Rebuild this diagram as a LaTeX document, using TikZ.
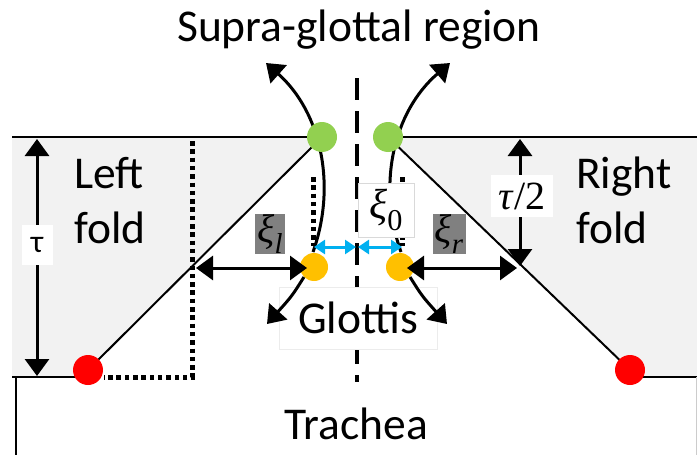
\documentclass[tikz,border=0pt]{standalone}
\usepackage{fontspec}
\setmainfont{Carlito}
\newfontfamily\mfont{Liberation Serif}
\usetikzlibrary{arrows.meta}
\definecolor{foldgray}{HTML}{F2F2F2}
\definecolor{dgreen}{HTML}{92D050}
\definecolor{dyellow}{HTML}{FFC000}
\definecolor{dblue}{HTML}{00B0F0}
\definecolor{labgray}{HTML}{808080}
\newcommand{\msym}[3]{{\mfont\fontsize{#1}{#1}\selectfont #2\raisebox{-0.28em}{\fontsize{0.72\dimexpr#1pt\relax}{1}\selectfont #3}}}
\tikzset{
  dot/.style={circle,inner sep=0pt,minimum size=30pt},
  bigtext/.style={font=\fontsize{45.5}{52}\selectfont,inner sep=0pt},
  blk/.style={line width=3pt,{Triangle[length=17pt,width=24pt]}-{Triangle[length=17pt,width=24pt]}},
  blkone/.style={line width=3pt,-{Triangle[length=17pt,width=24pt]}},
  bluedbl/.style={line width=3pt,draw=dblue,{Triangle[length=11pt,width=14pt]}-{Triangle[length=11pt,width=14pt]}},
  dotline/.style={line width=5pt,dash pattern=on 4.5pt off 3.8pt},
  thinline/.style={line width=2pt},
}
\begin{document}
\begin{tikzpicture}[x=1pt,y=-1pt]
\useasboundingbox (0,0) rectangle (697,455);
% coordinates
\coordinate (gLc) at (322,137);
\coordinate (gRc) at (388,137);
\coordinate (rLc) at (88,370);
\coordinate (rRc) at (630,370);
\coordinate (yLc) at (314,267);
\coordinate (yRc) at (400,267);
% fold fills
\fill[foldgray] (12,137) -- (gLc) -- (rLc) -- (88,377) -- (12,377) -- cycle;
\fill[foldgray] (gRc) -- (697,137) -- (697,377) -- (630,377) -- (rRc) -- cycle;
% outlines
\coordinate (tl) at (12,137);
\coordinate (tr) at (697,137);
\coordinate (bl) at (12,377);
\coordinate (br) at (697,377);
\draw[thinline] (tl) -- (gLc);
\draw[thinline] (gRc) -- (tr);
\draw[thinline] (gLc) -- (rLc);
\draw[thinline] (gRc) -- (rRc);
\draw[thinline] (bl) -- (rLc |- bl);
\draw[thinline] (rRc |- br) -- (br);
\coordinate (wl1) at (16,377);
\coordinate (wl2) at (16,455);
\draw[thinline] (wl1) -- (wl2);
\coordinate (wr1) at (696,377);
\coordinate (wr2) at (696,455);
\draw[line width=1pt,gray!40] (wr1) -- (wr2);
% dotted lines
\coordinate (d1) at (192,141);
\coordinate (d2) at (192,377);
\coordinate (d3) at (104,377);
\draw[dotline] (d1) -- (d2) -- (d3);
\coordinate (s1) at (313,177);
\coordinate (s2) at (313,246);
\draw[dotline] (s1) -- (s2);
\coordinate (s3) at (402,177);
\coordinate (s4) at (402,246);
\draw[dotline] (s3) -- (s4);
% centre line
\coordinate (c1) at (357,78);
\coordinate (c2) at (357,382);
\draw[line width=4.5pt,dash pattern=on 22pt off 11pt] (c1) -- (c2);
% curves
\coordinate (tipUL) at (266,63);
\coordinate (tipUR) at (450,63);
\coordinate (yLtop) at (313,252);
\coordinate (yRtop) at (401,252);
\draw[blkone] (yLtop) .. controls (337,185) and (321,112) .. (tipUL);
\draw[blkone] (yRtop) .. controls (377,185) and (393,112) .. (tipUR);
% glottis label box (under the arrows)
\node[fill=white,draw=gray!15,line width=0.6pt,minimum width=158pt,minimum height=62pt,inner sep=0pt,bigtext] (glot) at (358,318) {Glottis};
% dots
\node[dot,fill=dgreen] (gL) at (gLc) {};
\node[dot,fill=dgreen] (gR) at (gRc) {};
\node[dot,fill=red] (rL) at (rLc) {};
\node[dot,fill=red] (rR) at (rRc) {};
\node[dot,fill=dyellow,minimum size=28pt] (yL) at (yLc) {};
\node[dot,fill=dyellow,minimum size=28pt] (yR) at (yRc) {};
% horizontal arrows
\coordinate (hL1) at (196,268);
\coordinate (hL2) at (307,268);
\coordinate (hR1) at (407,268);
\coordinate (hR2) at (517,268);
\draw[blk] (hL1) -- (hL2);
\draw[blk] (hR1) -- (hR2);
% lower arrows
\coordinate (tipLL) at (267,324);
\coordinate (tipLR) at (447,324);
\draw[blkone] (yL.225) .. controls (292,296) .. (tipLL);
\draw[blkone] (yR.-45) .. controls (422,296) .. (tipLR);
% tau arrows
\coordinate (ta1) at (37,139);
\coordinate (ta2) at (37,376);
\draw[blk] (ta1) -- (ta2);
\coordinate (tb1) at (520,139);
\coordinate (tb2) at (520,266);
\draw[blk] (tb1) -- (tb2);
% blue arrows
\coordinate (b1) at (314,247);
\coordinate (b2) at (356,247);
\coordinate (b3) at (358,247);
\coordinate (b4) at (402,247);
\draw[bluedbl] (b1) -- (b2);
\draw[bluedbl] (b3) -- (b4);
% labels
\node[fill=white,minimum width=31pt,minimum height=40pt,inner sep=0pt,font=\fontsize{32}{36}\selectfont] (tau) at (37,245) {τ};
\node[fill=white,minimum width=62pt,minimum height=42pt,inner sep=0pt,font={\mfont\fontsize{40}{40}\selectfont}] (tau2) at (522,196) {\textit{τ}/2};
\node[fill=white,draw=gray!30,line width=0.8pt,minimum width=56pt,minimum height=54pt,inner sep=0pt] (xi0) at (386,210) {\msym{42}{\textit{ξ}}{0}};
\node[fill=labgray,minimum width=30pt,minimum height=28pt,inner sep=0pt] (xil) at (270,234) {\msym{40}{\textit{ξ}}{\textit{l}}};
\node[fill=labgray,minimum width=33pt,minimum height=28pt,inner sep=0pt] (xir) at (449,234) {\msym{40}{\textit{ξ}}{\textit{r}}};
\node[bigtext] (supra) at (359,30) {Supra-glottal region};
\node[bigtext] (trach) at (356,424) {Trachea};
\node[bigtext,align=left,anchor=north west,font=\fontsize{45.5}{55}\selectfont] (lf) at (74,157) {Left\\fold};
\node[bigtext,align=left,anchor=north west,font=\fontsize{45.5}{55}\selectfont] (rf) at (576,157) {Right\\fold};
\end{tikzpicture}
\end{document}
